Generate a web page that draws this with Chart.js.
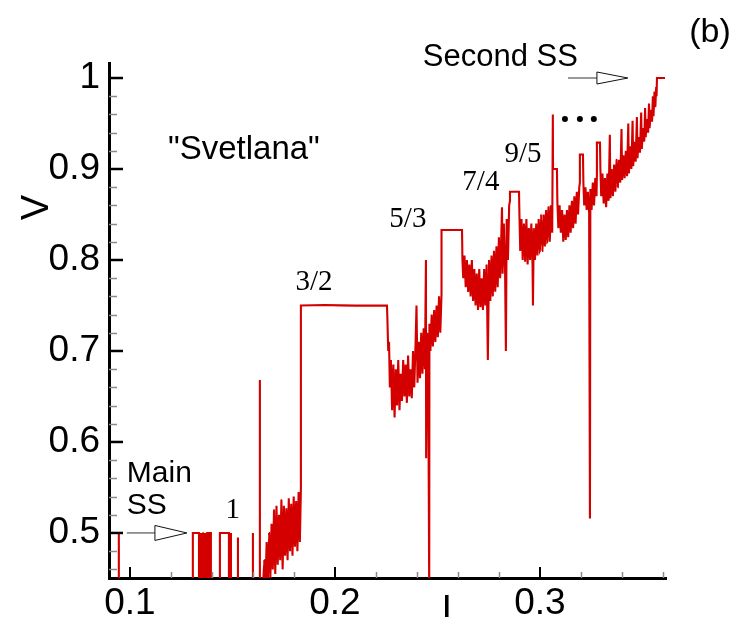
<!DOCTYPE html>
<html>
<head>
<meta charset="utf-8">
<script src="https://cdn.jsdelivr.net/npm/chart.js@4.4.1/dist/chart.umd.min.js"></script>
<style>
  html, body { margin: 0; padding: 0; background: #fff; }
  #wrap { width: 748px; height: 617px; position: relative; }
</style>
</head>
<body>
<div id="wrap"><canvas id="ivChart"></canvas></div>
<script>
// ------- Data: current I and voltage V along the sweep -------
// main superconducting state and the switching lines near V = 0.5
const mainI = [0.0946, 0.0946, 0.0946, 0.1307, 0.1307, 0.1337,
  0.1337, 0.1339, 0.1342, 0.1344, 0.1347, 0.1349, 0.1351, 0.1354, 0.1356, 0.1359, 0.1361,
  0.1363, 0.1366, 0.1368, 0.1371, 0.1373, 0.1375, 0.1378, 0.1380, 0.1383, 0.1385,
  0.1385, 0.1395, 0.1395, 0.1439, 0.1439, 0.1483, 0.1483,
  0.1493, 0.1493, 0.1493, 0.1527, 0.1527, 0.1527, 0.1600, 0.1600, 0.1600, 0.1634, 0.1634, 0.1634];
const mainV = [0.43, 0.50, 0.43, 0.43, 0.50, 0.50,
  0.43, 0.50, 0.43, 0.50, 0.43, 0.50, 0.43, 0.50, 0.43, 0.50, 0.43,
  0.50, 0.43, 0.50, 0.43, 0.50, 0.43, 0.50, 0.43, 0.50, 0.43,
  0.50, 0.50, 0.43, 0.43, 0.50, 0.50, 0.43,
  0.43, 0.50, 0.43, 0.43, 0.495, 0.43, 0.43, 0.50, 0.43, 0.43, 0.668, 0.43];

// noisy rise up to the 3/2 step
const rise1I = [0.1645, 0.1649, 0.1655, 0.1661, 0.1667, 0.1673, 0.1679, 0.1685, 0.1691, 0.1697, 0.1703,
  0.1709, 0.1715, 0.1721, 0.1727, 0.1733, 0.1739, 0.1745, 0.1751, 0.1757, 0.1763, 0.1769, 0.1775,
  0.1781, 0.1787, 0.1793, 0.1799, 0.1805, 0.1811, 0.1817, 0.1823, 0.1829, 0.1834];
const rise1V = [0.43, 0.44, 0.47, 0.44, 0.49, 0.45, 0.50, 0.45, 0.51, 0.46, 0.525,
  0.455, 0.53, 0.465, 0.52, 0.47, 0.536, 0.46, 0.53, 0.475, 0.527, 0.47, 0.538,
  0.48, 0.532, 0.475, 0.54, 0.485, 0.535, 0.48, 0.545, 0.49, 0.548];

const step32I = [0.1834, 0.1950, 0.2100, 0.2254];
const step32V = [0.75, 0.7505, 0.7498, 0.75];

const dip32I = [0.2256, 0.2260, 0.2264, 0.2268, 0.2273, 0.2279, 0.2285, 0.2291, 0.2297, 0.2303,
  0.2309, 0.2315, 0.2321, 0.2327, 0.2333, 0.2339, 0.2345, 0.2351, 0.2357, 0.2363,
  0.2369, 0.2375, 0.2381, 0.2387, 0.2393, 0.2398, 0.2403, 0.2409, 0.2415, 0.2421,
  0.2427, 0.2433, 0.2439, 0.2444, 0.2445, 0.2450, 0.2455, 0.2460, 0.2461, 0.2466,
  0.2472, 0.2478, 0.2484, 0.2490, 0.2496, 0.2502, 0.2508, 0.2514, 0.2520];
const dip32V = [0.735, 0.70, 0.71, 0.66, 0.69, 0.635, 0.685, 0.627, 0.68, 0.64,
  0.69, 0.635, 0.675, 0.645, 0.69, 0.65, 0.685, 0.643, 0.695, 0.65,
  0.68, 0.648, 0.70, 0.66, 0.705, 0.75, 0.665, 0.71, 0.67, 0.72,
  0.675, 0.725, 0.68, 0.80, 0.582, 0.72, 0.70, 0.43, 0.73, 0.70,
  0.74, 0.705, 0.745, 0.71, 0.75, 0.715, 0.76, 0.72, 0.762];

const step53I = [0.2520, 0.2620];
const step53V = [0.833, 0.833];

const dip53I = [0.2622, 0.2626, 0.2632, 0.2638, 0.2644, 0.2650, 0.2656, 0.2662, 0.2668, 0.2674,
  0.2680, 0.2686, 0.2692, 0.2698, 0.2704, 0.2710, 0.2716, 0.2722, 0.2728, 0.2734,
  0.2740, 0.2746, 0.2752, 0.2758, 0.2764, 0.2770, 0.2776, 0.2782, 0.2788, 0.2794,
  0.2800, 0.2806, 0.2812, 0.2815, 0.2818, 0.2824, 0.2830, 0.2834, 0.2838, 0.2844, 0.2850, 0.2854];
const dip53V = [0.80, 0.78, 0.805, 0.77, 0.80, 0.765, 0.795, 0.76, 0.80, 0.755,
  0.79, 0.75, 0.785, 0.745, 0.79, 0.748, 0.78, 0.745, 0.79, 0.75,
  0.795, 0.69, 0.80, 0.755, 0.805, 0.76, 0.81, 0.765, 0.815, 0.77,
  0.825, 0.78, 0.83, 0.858, 0.785, 0.84, 0.79, 0.70, 0.845, 0.80, 0.86, 0.865];

const step74I = [0.2854, 0.2898];
const step74V = [0.875, 0.875];

const dip74I = [0.2900, 0.2904, 0.2910, 0.2916, 0.2922, 0.2928, 0.2934, 0.2940, 0.2946, 0.2952,
  0.2958, 0.2964, 0.2966, 0.2970, 0.2976, 0.2982, 0.2988, 0.2994, 0.3000, 0.3006,
  0.3012, 0.3018, 0.3024, 0.3030, 0.3036, 0.3042, 0.3048, 0.3054, 0.3060, 0.3063];
const dip74V = [0.85, 0.81, 0.845, 0.80, 0.84, 0.798, 0.845, 0.795, 0.835, 0.80,
  0.84, 0.795, 0.75, 0.835, 0.80, 0.84, 0.805, 0.845, 0.81, 0.85,
  0.81, 0.85, 0.815, 0.855, 0.82, 0.858, 0.82, 0.86, 0.83, 0.96];

const step95I = [0.3064, 0.3083];
const step95V = [0.90, 0.90];

const dip95I = [0.3085, 0.3090, 0.3096, 0.3102, 0.3108, 0.3114, 0.3120, 0.3126, 0.3132, 0.3138,
  0.3144, 0.3150, 0.3156, 0.3162, 0.3168, 0.3174, 0.3180, 0.3186, 0.3192, 0.3195];
const dip95V = [0.865, 0.835, 0.86, 0.83, 0.855, 0.82, 0.85, 0.822, 0.855, 0.825,
  0.86, 0.83, 0.865, 0.835, 0.87, 0.84, 0.875, 0.85, 0.88, 0.885];

const step116I = [0.3195, 0.3210];
const step116V = [0.916, 0.916];

const dip116I = [0.3212, 0.3216, 0.3222, 0.3228, 0.3234, 0.3240, 0.3244, 0.3246, 0.3252, 0.3258,
  0.3264, 0.3270, 0.3276, 0.3278];
const dip116V = [0.885, 0.86, 0.88, 0.855, 0.875, 0.852, 0.516, 0.878, 0.855, 0.885,
  0.86, 0.89, 0.87, 0.895];

const step137I = [0.3278, 0.3293];
const step137V = [0.929, 0.929];

// dense steps approaching the second superconducting state
const tailI = [0.3295, 0.3299, 0.3305, 0.3311, 0.3317, 0.3323, 0.3329, 0.3335, 0.3341, 0.3344,
  0.3350, 0.3356, 0.3362, 0.3368, 0.3374, 0.3380, 0.3386, 0.3392, 0.3398, 0.3401,
  0.3407, 0.3413, 0.3419, 0.3425, 0.3431, 0.3434, 0.3440, 0.3446, 0.3452, 0.3455,
  0.3461, 0.3467, 0.3473, 0.3476, 0.3482, 0.3488, 0.3494, 0.3497, 0.3503, 0.3509,
  0.3513, 0.3516, 0.3522, 0.3528, 0.3532, 0.3535, 0.3541, 0.3547, 0.3551, 0.3554,
  0.3559, 0.3563, 0.3567, 0.3569, 0.3571];
const tailV = [0.90, 0.87, 0.895, 0.862, 0.89, 0.858, 0.895, 0.865, 0.9375, 0.868,
  0.90, 0.87, 0.905, 0.875, 0.91, 0.88, 0.91, 0.885, 0.944, 0.888,
  0.915, 0.89, 0.92, 0.892, 0.95, 0.895, 0.925, 0.90, 0.953, 0.903,
  0.93, 0.908, 0.957, 0.912, 0.935, 0.918, 0.962, 0.922, 0.945, 0.93,
  0.967, 0.935, 0.955, 0.94, 0.972, 0.945, 0.965, 0.952, 0.98, 0.958,
  0.985, 0.968, 0.99, 0.98, 1.0];

const secondSsI = [0.3571, 0.3610];
const secondSsV = [1.0, 1.0];

const xTickValues = [0.1, 0.2, 0.3];
const xTickLabels = ['0.1', '0.2', '0.3'];
const yTickValues = [0.5, 0.6, 0.7, 0.8, 0.9, 1.0];
const yTickLabels = ['0.5', '0.6', '0.7', '0.8', '0.9', '1'];

// ------- Build the trace -------
const segments = [
  [mainI, mainV], [rise1I, rise1V], [step32I, step32V], [dip32I, dip32V],
  [step53I, step53V], [dip53I, dip53V], [step74I, step74V], [dip74I, dip74V],
  [step95I, step95V], [dip95I, dip95V], [step116I, step116V], [dip116I, dip116V],
  [step137I, step137V], [tailI, tailV], [secondSsI, secondSsV]
];
const trace = segments.flatMap(([xs, ys]) =>
  xs.slice(0, Math.min(xs.length, ys.length)).map((x, i) => ({ x, y: ys[i] })));

const SANS = '"Liberation Sans", Arial, sans-serif';
const SERIF = '"Liberation Serif", "Times New Roman", serif';

// ------- Axes ticks (inward) + labels -------
function drawArrow(ctx, x0, xHead, x1, yPix, headH) {
  ctx.strokeStyle = '#333';
  ctx.lineWidth = 1;
  ctx.beginPath();
  ctx.moveTo(x0, yPix);
  ctx.lineTo(xHead, yPix);
  ctx.stroke();
  ctx.beginPath();
  ctx.moveTo(xHead, yPix - headH / 2);
  ctx.lineTo(x1, yPix);
  ctx.lineTo(xHead, yPix + headH / 2);
  ctx.closePath();
  ctx.fillStyle = '#fff';
  ctx.fill();
  ctx.strokeStyle = '#111';
  ctx.stroke();
}

const decorPlugin = {
  id: 'decor',
  afterDraw(chart) {
    const { ctx, chartArea: a, scales: { x, y } } = chart;
    ctx.save();

    // minor ticks every 0.02
    ctx.strokeStyle = '#8a8a8a';
    ctx.lineWidth = 1.5;
    for (let k = 23; k <= 50; k++) {
      if (k % 5 === 0) continue;
      const py = Math.round(y.getPixelForValue(k / 50)) + 0.5;
      ctx.beginPath(); ctx.moveTo(a.left, py); ctx.lineTo(a.left + 8, py); ctx.stroke();
    }
    for (let k = 5; k <= 18; k++) {
      if (k % 5 === 0) continue;
      const px = Math.round(x.getPixelForValue(k / 50)) + 0.5;
      ctx.beginPath(); ctx.moveTo(px, a.bottom); ctx.lineTo(px, a.bottom - 6); ctx.stroke();
    }
    // major ticks
    ctx.strokeStyle = '#000';
    ctx.lineWidth = 2.5;
    yTickValues.forEach(v => {
      const py = y.getPixelForValue(v);
      ctx.beginPath(); ctx.moveTo(a.left, py); ctx.lineTo(a.left + 14, py); ctx.stroke();
    });
    ctx.lineWidth = 2;
    xTickValues.forEach(v => {
      const px = Math.round(x.getPixelForValue(v));
      ctx.beginPath(); ctx.moveTo(px, a.bottom); ctx.lineTo(px, a.bottom - 11); ctx.stroke();
    });

    // axis titles
    ctx.fillStyle = '#000';
    ctx.font = '38px ' + SANS;
    ctx.textAlign = 'center';
    ctx.textBaseline = 'middle';
    ctx.save();
    ctx.translate(38, y.getPixelForValue(0.8575));
    ctx.rotate(-Math.PI / 2);
    ctx.fillText('V', 0, 0);
    ctx.restore();
    ctx.textBaseline = 'alphabetic';
    ctx.fillText('I', x.getPixelForValue(0.2546), 622);

    // panel tag
    ctx.font = '34px ' + SANS;
    ctx.fillText('(b)', 710, 42);

    // step labels
    ctx.font = '29px ' + SERIF;
    ctx.textBaseline = 'middle';
    ctx.fillText('1', x.getPixelForValue(0.1502), y.getPixelForValue(0.5253));
    ctx.fillText('3/2', x.getPixelForValue(0.1898), y.getPixelForValue(0.7758));
    ctx.fillText('5/3', x.getPixelForValue(0.2356), y.getPixelForValue(0.845));
    ctx.fillText('7/4', x.getPixelForValue(0.2712), y.getPixelForValue(0.8857));
    ctx.fillText('9/5', x.getPixelForValue(0.2917), y.getPixelForValue(0.9165));

    // ellipsis
    [0.3122, 0.3195, 0.3263].forEach(v => {
      ctx.beginPath();
      ctx.arc(x.getPixelForValue(v), y.getPixelForValue(0.955), 3, 0, Math.PI * 2);
      ctx.fill();
    });

    // sample name and state markers
    ctx.font = '33px ' + SANS;
    ctx.fillText('"Svetlana"', x.getPixelForValue(0.1556), y.getPixelForValue(0.9209));
    ctx.font = '31px ' + SANS;
    ctx.textAlign = 'left';
    ctx.fillText('Second SS', x.getPixelForValue(0.2429), y.getPixelForValue(1.0225));
    ctx.font = '30px ' + SANS;
    ctx.fillText('Main', x.getPixelForValue(0.0985), y.getPixelForValue(0.5648));
    ctx.fillText('SS', x.getPixelForValue(0.0985), y.getPixelForValue(0.5297));

    drawArrow(ctx, x.getPixelForValue(0.3137), x.getPixelForValue(0.3278),
      x.getPixelForValue(0.3429), y.getPixelForValue(1.0), 12);
    drawArrow(ctx, x.getPixelForValue(0.0985), x.getPixelForValue(0.1122),
      x.getPixelForValue(0.1278), y.getPixelForValue(0.5), 15);

    ctx.restore();
  }
};

// ------- Chart -------
new Chart(document.getElementById('ivChart').getContext('2d'), {
  type: 'line',
  data: {
    datasets: [{
      data: trace,
      borderColor: 'rgb(212,0,0)',
      borderWidth: 2.1,
      pointRadius: 0,
      tension: 0.0001,   // keeps every vertex (no per-pixel merging)
      fill: false
    }]
  },
  options: {
    responsive: true,
    maintainAspectRatio: false,
    animation: false,
    devicePixelRatio: 1,
    layout: { padding: { top: 63, right: 82, left: 0, bottom: 0 } },
    plugins: { legend: { display: false }, tooltip: { enabled: false } },
    scales: {
      x: {
        type: 'linear',
        min: 0.0898,
        max: 0.3615,
        border: { display: true, color: '#000', width: 3 },
        grid: { display: false, drawTicks: false },
        ticks: {
          color: '#000',
          font: { family: SANS, size: 37 },
          padding: 4,
          maxRotation: 0,
          callback: (v, i) => xTickLabels[i]
        },
        afterBuildTicks: s => { s.ticks = xTickValues.map(v => ({ value: v })); },
        afterFit: s => { s.height = 39; }
      },
      y: {
        type: 'linear',
        min: 0.4505,
        max: 1.0165,
        border: { display: true, color: '#000', width: 3 },
        grid: { display: false, drawTicks: false },
        ticks: {
          color: '#000',
          font: { family: SANS, size: 37 },
          padding: 9,
          callback: (v, i) => yTickLabels[i]
        },
        afterBuildTicks: s => { s.ticks = yTickValues.map(v => ({ value: v })); },
        afterFit: s => { s.width = 109; }
      }
    }
  },
  plugins: [decorPlugin]
});
</script>
</body>
</html>
